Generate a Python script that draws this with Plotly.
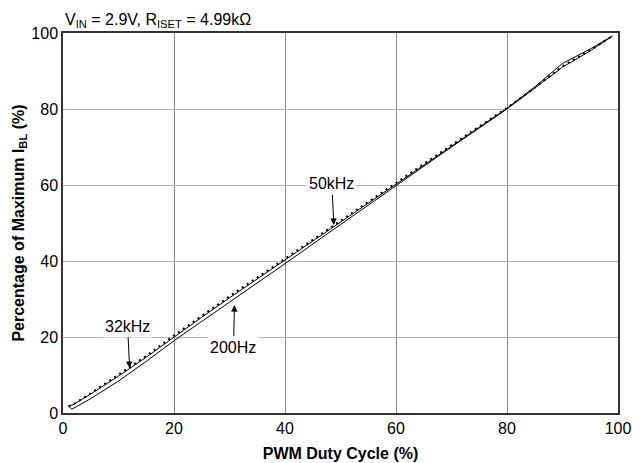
import plotly.graph_objects as go

duty = [1, 2, 5, 10, 15, 20, 25, 30, 40, 50, 60, 70, 80, 85, 90, 95, 99]
khz32 = [1.8, 2.4, 5.2, 10.0, 15.0, 20.4, 25.6, 30.7, 40.6, 50.6, 60.6, 70.5, 80.3, 85.6, 91.3, 95.5, 99.2]
khz50 = [1.8, 2.3, 5.0, 9.7, 14.7, 20.0, 25.2, 30.3, 40.2, 50.1, 60.2, 70.2, 80.2, 85.8, 92.0, 95.8, 99.2]
hz200_x = [1, 1.6, 5, 10, 15, 20, 25, 30, 40, 50, 60, 70, 80, 85, 90, 95, 99]
hz200 = [1.8, 1.0, 3.8, 8.4, 13.6, 19.0, 24.1, 29.1, 39.3, 49.6, 59.9, 70.0, 80.0, 85.4, 91.0, 95.3, 99.2]

fig = go.Figure()
fig.add_trace(go.Scatter(x=hz200_x, y=hz200, mode="lines", line=dict(color="black", width=1), name="200Hz"))
fig.add_trace(go.Scatter(x=duty, y=khz50, mode="lines", line=dict(color="black", width=1), name="50kHz"))
fig.add_trace(go.Scatter(x=duty, y=khz32, mode="lines", line=dict(color="black", width=2, dash="2px,4px"), name="32kHz"))

font = dict(family="Liberation Sans, Arial, sans-serif", size=16, color="black")

anns = [
    dict(x=12, y=11.8, text="32kHz", ax=-2, ay=-42),
    dict(x=30.9, y=28.4, text="200Hz", ax=-1, ay=42),
    dict(x=48.8, y=49.5, text="50kHz", ax=-2, ay=-41),
]
for a in anns:
    fig.add_annotation(x=a["x"], y=a["y"], text=a["text"], ax=a["ax"], ay=a["ay"],
                       showarrow=True, arrowhead=2, arrowsize=1.3, arrowwidth=1,
                       arrowcolor="black", bgcolor="white", borderpad=2, font=font)

fig.add_annotation(xref="paper", yref="paper", x=0.0, y=1.0, xanchor="left", yanchor="bottom",
                   yshift=1, showarrow=False,
                   text="V<sub>IN</sub> = 2.9V, R<sub>ISET</sub> = 4.99kΩ", font=font)

fig.update_layout(
    width=632, height=455,
    margin=dict(l=55, r=22, t=25, b=50, autoexpand=False),
    paper_bgcolor="white", plot_bgcolor="white",
    showlegend=False,
    font=font,
)
fig.update_xaxes(range=[0, 100], tickvals=[0, 20, 40, 60, 80, 100], showgrid=True,
                 gridcolor="#8a8a8a", gridwidth=1, showline=True, linecolor="#333", linewidth=1.5,
                 mirror=True, zeroline=False, ticks="", tickfont=dict(size=16), automargin=False,
                 title=dict(text="<b>PWM Duty Cycle (%)</b>", font=dict(size=16), standoff=12))
fig.update_yaxes(range=[0, 100], tickvals=[0, 20, 40, 60, 80, 100], showgrid=True,
                 gridcolor="#b4b4b4", gridwidth=1, showline=True, linecolor="#333", linewidth=1.5,
                 mirror=True, zeroline=False, ticks="", tickfont=dict(size=16), automargin=False,
                 title=dict(text="<b>Percentage of Maximum I<sub>BL</sub> (%)</b>", font=dict(size=16), standoff=3))

fig.write_html("out.html")
